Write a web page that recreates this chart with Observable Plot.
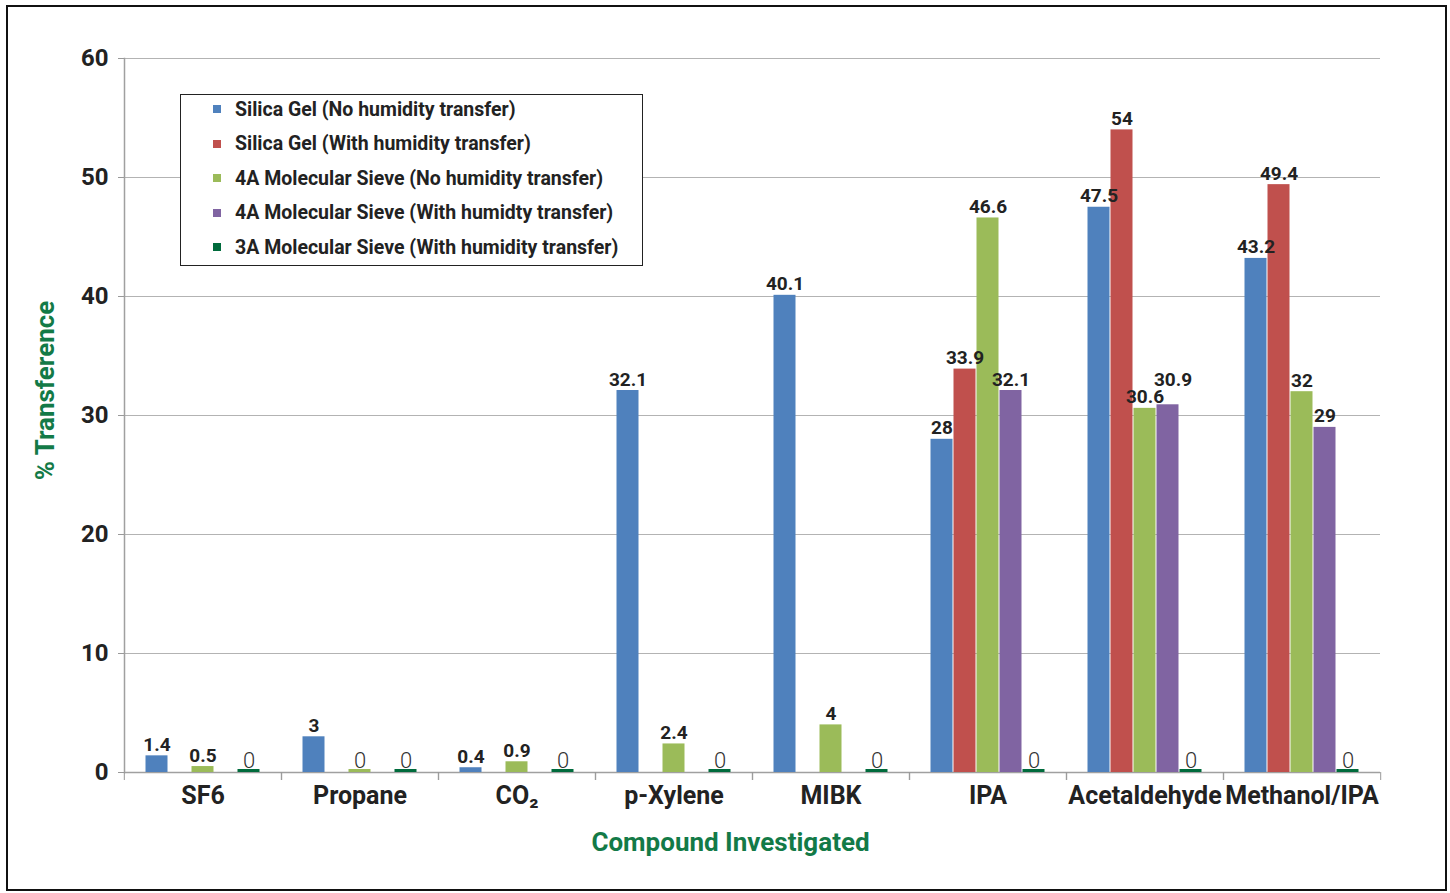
<!DOCTYPE html>
<html>
<head>
<meta charset="utf-8">
<script src="https://cdn.jsdelivr.net/npm/d3@7"></script>
<script src="https://cdn.jsdelivr.net/npm/@observablehq/plot@0.6"></script>
<style>
  html, body { margin: 0; padding: 0; background: #fff; overflow: hidden; }
  body { width: 1450px; height: 893px; position: relative; font-family: Roboto, "DejaVu Sans", sans-serif; }
  #border { position: absolute; left: 6px; top: 5px; width: 1441px; height: 886px; border: 2px solid #111; box-sizing: border-box; pointer-events: none; }
  #chart { position: absolute; left: 0; top: 0; }
  #legend { position: absolute; left: 180px; top: 94px; width: 463px; height: 172px; box-sizing: border-box;
            border: 1px solid #222; background: #fff; padding-top: 0; }
  .item { display: flex; align-items: center; height: 34.5px; font-weight: 700; font-size: 19.5px; color: #222; }
  .item:first-child { margin-top: -3px; }
  .sw { width: 8px; height: 8px; margin-left: 32px; margin-right: 14px; }
</style>
</head>
<body>
<div id="chart"></div>
<div id="legend"></div>
<div id="border"></div>
<script>
// ---- data ----
const compounds = ["SF6", "Propane", "CO₂", "p-Xylene", "MIBK", "IPA", "Acetaldehyde", "Methanol/IPA"];
const seriesNames = [
  "Silica Gel (No humidity transfer)",
  "Silica Gel (With humidity transfer)",
  "4A Molecular Sieve (No humidity transfer)",
  "4A Molecular Sieve (With humidty transfer)",
  "3A Molecular Sieve (With humidity transfer)"
];
const seriesColors = ["#4F81BD", "#C0504D", "#9BBB59", "#8064A2", "#006B3C"];
const silicaNoHumidity   = [1.4, 3, 0.4, 32.1, 40.1, 28, 47.5, 43.2];
const silicaWithHumidity = [null, null, null, null, null, 33.9, 54, 49.4];
const sieve4ANoHumidity  = [0.5, 0, 0.9, 2.4, 4, 46.6, 30.6, 32];
const sieve4AWithHumidity= [null, null, null, null, null, 32.1, 30.9, 29];
const sieve3AWithHumidity= [0, 0, 0, 0, 0, 0, 0, 0];
const yTicks = [0, 10, 20, 30, 40, 50, 60];

// ---- table ----
const seriesValues = [silicaNoHumidity, silicaWithHumidity, sieve4ANoHumidity, sieve4AWithHumidity, sieve3AWithHumidity];
const rows = [];
compounds.forEach((c, i) => {
  seriesNames.forEach((s, j) => {
    const v = seriesValues[j][i];
    if (v !== null && v !== undefined) rows.push({compound: c, series: s, value: v});
  });
});
const nonZero = rows.filter(d => d.value !== 0);
const zeros = rows.filter(d => d.value === 0);
// the one label lifted clear of its neighbour in the original chart
const isLifted = d => d.compound === "Acetaldehyde" && d.series === seriesNames[3];

const W = 1450, H = 893, mL = 122, mR = 69, mT = 58, mB = 121;
const facetStep = (W - mL - mR) / compounds.length;
const green = "#137a47";
const labelStyle = {fx: "compound", x: "series", y: "value", text: d => String(d.value), lineAnchor: "bottom", fontSize: 19, fontWeight: 700, fill: "#222"};

const plot = Plot.plot({
  width: W, height: H,
  marginLeft: mL, marginRight: mR, marginTop: mT, marginBottom: mB,
  style: {fontFamily: "Roboto, 'DejaVu Sans', sans-serif", background: "transparent", color: "#222"},
  fx: {domain: compounds, padding: 0, label: null, axis: null},
  x: {domain: seriesNames, paddingInner: 0, paddingOuter: 0.78, axis: null},
  y: {domain: [0, 60], label: null},
  color: {domain: seriesNames, range: seriesColors},
  marks: [
    Plot.gridY(yTicks, {stroke: "#b3b3b3", strokeOpacity: 1}),
    Plot.ruleY([0], {stroke: "#a0a0a0", strokeWidth: 1.5}),
    Plot.frame({anchor: "left", facet: "super", stroke: "#a0a0a0", strokeWidth: 1.5}),
    Plot.axisY({ticks: yTicks, tickSize: 6, tickPadding: 10, fontSize: 24, fontWeight: 700, stroke: "#999", fill: "#222", label: null}),
    Plot.axisFx({anchor: "bottom", tickSize: 0, tickPadding: 14, fontSize: 25, fontWeight: 700, fill: "#222", label: null}),
    Plot.axisFx({anchor: "bottom", tickSize: 8, tickFormat: () => "", label: null, stroke: "#999", dx: -facetStep / 2}),
    Plot.axisFx({anchor: "bottom", tickSize: 8, tickFormat: () => "", label: null, stroke: "#999", dx: facetStep / 2}),
    Plot.barY(nonZero, {fx: "compound", x: "series", y: "value", fill: "series", insetLeft: 0.5, insetRight: 0.5}),
    Plot.barY(zeros, {fx: "compound", x: "series", y1: 0, y2: "value", fill: "series", insetTop: -3, insetLeft: 0.5, insetRight: 0.5}),
    Plot.text(nonZero.filter(d => !isLifted(d)), {...labelStyle, dy: -5}),
    Plot.text(nonZero.filter(isLifted), {...labelStyle, dy: -19, dx: 5}),
    Plot.text(zeros, {fx: "compound", x: "series", y: "value", text: d => String(d.value), lineAnchor: "bottom", dy: -5, fontSize: 22, fontWeight: 300, fill: "#333"}),
    Plot.text(["% Transference"], {facet: "super", frameAnchor: "left", textAnchor: "middle", rotate: -90, dx: -79, dy: -25, fontSize: 26, fontWeight: 700, fill: green}),
    Plot.text(["Compound Investigated"], {facet: "super", frameAnchor: "bottom", textAnchor: "middle", dx: -22, dy: 78, fontSize: 26, fontWeight: 700, fill: green})
  ]
});
document.getElementById("chart").appendChild(plot);

// ---- legend ----
const legend = d3.select("#legend");
seriesNames.forEach((s, j) => {
  const item = legend.append("div").attr("class", "item");
  item.append("span").attr("class", "sw").style("background", seriesColors[j]);
  item.append("span").text(s);
});
</script>
</body>
</html>
